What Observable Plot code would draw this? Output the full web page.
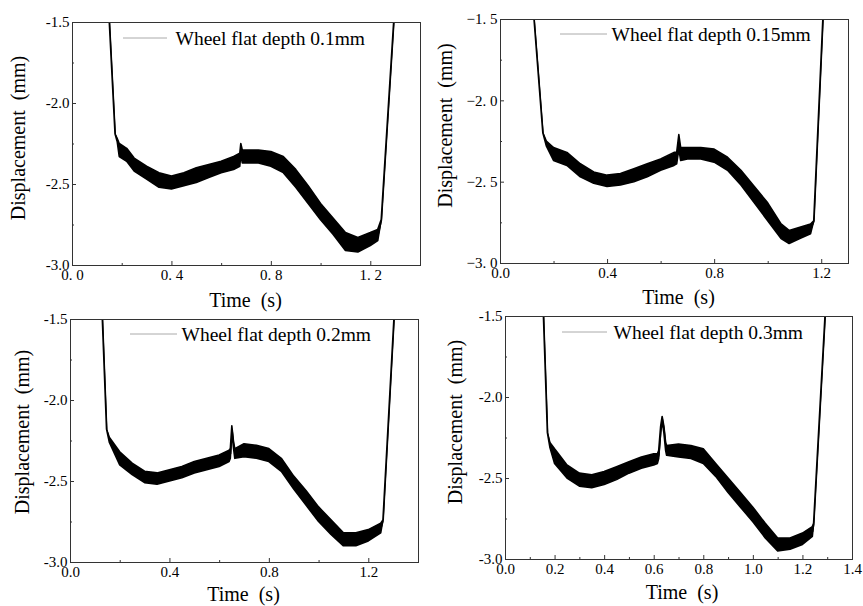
<!DOCTYPE html>
<html><head><meta charset="utf-8">
<script src="https://cdn.jsdelivr.net/npm/d3@7"></script>
<script src="https://cdn.jsdelivr.net/npm/@observablehq/plot@0.6"></script>
<style>
body{margin:0;background:#fff;}
#chart{position:relative;width:863px;height:606px;overflow:hidden;background:#fff;font-family:"Liberation Serif",serif;}
#chart svg{position:absolute;overflow:visible;}
#chart svg text{font-family:"Liberation Serif","Times New Roman",serif;white-space:pre;}
#chart svg g[aria-label$="tick label"] text{font-size:15px !important;fill:#000;}
</style></head><body><div id="chart"></div>
<script>
// ---- Data (time in s, displacement band in mm) ----
const time1  = [0.150,0.173,0.182,0.19,0.22,0.25,0.30,0.35,0.40,0.45,0.50,0.55,0.60,0.65,0.675,0.679,0.685,0.70,0.75,0.80,0.85,0.90,0.95,1.00,1.05,1.10,1.15,1.20,1.23,1.244,1.294];
const lower1 = [-1.5,-2.19,-2.24,-2.33,-2.36,-2.42,-2.47,-2.52,-2.53,-2.51,-2.49,-2.46,-2.43,-2.41,-2.39,-2.32,-2.37,-2.37,-2.37,-2.39,-2.43,-2.52,-2.62,-2.72,-2.81,-2.91,-2.92,-2.88,-2.85,-2.72,-1.5];
const upper1 = [-1.5,-2.19,-2.22,-2.25,-2.28,-2.34,-2.39,-2.43,-2.45,-2.43,-2.40,-2.38,-2.36,-2.33,-2.31,-2.25,-2.29,-2.29,-2.29,-2.30,-2.33,-2.41,-2.51,-2.62,-2.71,-2.80,-2.83,-2.80,-2.78,-2.72,-1.5];

const time2  = [0.127,0.160,0.173,0.20,0.25,0.30,0.35,0.40,0.45,0.50,0.55,0.60,0.65,0.66,0.668,0.675,0.70,0.75,0.80,0.85,0.90,0.95,1.00,1.05,1.08,1.12,1.16,1.172,1.206];
const lower2 = [-1.5,-2.20,-2.28,-2.37,-2.40,-2.47,-2.51,-2.53,-2.52,-2.50,-2.47,-2.43,-2.40,-2.39,-2.30,-2.37,-2.36,-2.36,-2.38,-2.43,-2.52,-2.63,-2.74,-2.85,-2.88,-2.85,-2.82,-2.74,-1.5];
const upper2 = [-1.5,-2.20,-2.25,-2.29,-2.32,-2.39,-2.44,-2.46,-2.45,-2.42,-2.39,-2.36,-2.32,-2.32,-2.21,-2.29,-2.29,-2.29,-2.30,-2.35,-2.43,-2.53,-2.63,-2.76,-2.80,-2.78,-2.76,-2.74,-1.5];

const time3  = [0.130,0.147,0.158,0.20,0.25,0.30,0.35,0.40,0.45,0.50,0.55,0.60,0.64,0.645,0.651,0.658,0.663,0.70,0.75,0.80,0.85,0.90,0.95,1.00,1.05,1.10,1.15,1.20,1.25,1.259,1.303];
const lower3 = [-1.5,-2.18,-2.26,-2.40,-2.46,-2.51,-2.52,-2.50,-2.48,-2.45,-2.43,-2.41,-2.38,-2.36,-2.20,-2.30,-2.36,-2.35,-2.36,-2.38,-2.44,-2.55,-2.65,-2.75,-2.83,-2.90,-2.90,-2.87,-2.82,-2.74,-1.5];
const upper3 = [-1.5,-2.18,-2.23,-2.32,-2.39,-2.44,-2.45,-2.43,-2.41,-2.38,-2.36,-2.34,-2.31,-2.30,-2.16,-2.26,-2.30,-2.27,-2.28,-2.30,-2.36,-2.47,-2.56,-2.66,-2.74,-2.82,-2.82,-2.80,-2.76,-2.74,-1.5];

const time4  = [0.155,0.171,0.181,0.20,0.25,0.30,0.35,0.40,0.45,0.50,0.55,0.60,0.615,0.62,0.628,0.634,0.641,0.648,0.652,0.70,0.75,0.80,0.85,0.90,0.95,1.00,1.05,1.10,1.15,1.20,1.24,1.245,1.291];
const lower4 = [-1.5,-2.22,-2.31,-2.41,-2.50,-2.55,-2.56,-2.54,-2.51,-2.47,-2.44,-2.42,-2.41,-2.38,-2.22,-2.15,-2.22,-2.33,-2.36,-2.37,-2.38,-2.41,-2.49,-2.59,-2.68,-2.77,-2.87,-2.95,-2.94,-2.91,-2.86,-2.78,-1.5];
const upper4 = [-1.5,-2.22,-2.28,-2.32,-2.42,-2.47,-2.48,-2.46,-2.43,-2.40,-2.37,-2.35,-2.35,-2.33,-2.18,-2.12,-2.18,-2.28,-2.30,-2.29,-2.30,-2.32,-2.41,-2.50,-2.59,-2.68,-2.78,-2.87,-2.87,-2.84,-2.80,-2.78,-1.5];

// ---- Ticks and labels ----
const yMajorTicks = [-3, -2.5, -2, -1.5];
const yMinorTicks = [-2.75, -2.25, -1.75];
const yTickLabelsA = ["-3.0", "-2.5", "-2.0", "-1.5"];
const yTickLabelsB = ["\u22123. 0", "\u22122. 5", "\u22122. 0", "\u22121. 5"];
const xMajorTicks = [0, 0.4, 0.8, 1.2];
const xMinorTicks = [0.2, 0.6, 1.0];
const xTickLabelsA = ["0. 0", "0. 4", "0. 8", "1. 2"];
const xTickLabelsB = ["0.0", "0.4", "0.8", "1.2"];
const xMajorTicks4 = [0, 0.2, 0.4, 0.6, 0.8, 1.0, 1.2, 1.4];
const xMinorTicks4 = [0.1, 0.3, 0.5, 0.7, 0.9, 1.1, 1.3];
const xTickLabels4 = ["0.0", "0.2", "0.4", "0.6", "0.8", "1.0", "1.2", "1.4"];
const legendLabels = ["Wheel flat depth 0.1mm", "Wheel flat depth 0.15mm", "Wheel flat depth 0.2mm", "Wheel flat depth 0.3mm"];
const xTitle = "Time\u00a0\u00a0(s)";
const yTitle = "Displacement\u00a0\u00a0(mm)";
const xMaxes = [1.4, 1.3, 1.4, 1.4];

// ---- Layout ----
const panels = [
  {left:0,   top:0,   width:430, height:300, ml:72, mt:22, mr:10, mb:35, xtDx:-1, xtDy:35, ytDx:-54, ytDy:-6,  lgDx:103, lgDy:16, lgX1:123, lgX2:167, lgY:38,
   time:time1, lower:lower1, upper:upper1, xMajor:xMajorTicks, xMinor:xMinorTicks, xLabels:xTickLabelsA, yLabels:yTickLabelsA},
  {left:430, top:0,   width:433, height:300, ml:70, mt:19, mr:15, mb:37, xtDx:4,  xtDy:34, ytDx:-55, ytDy:-16, lgDx:111, lgDy:15, lgX1:130, lgX2:177, lgY:34,
   time:time2, lower:lower2, upper:upper2, xMajor:xMajorTicks, xMinor:xMinorTicks, xLabels:xTickLabelsB, yLabels:yTickLabelsB},
  {left:0,   top:300, width:430, height:306, ml:70, mt:19, mr:12, mb:44, xtDx:-1, xtDy:32, ytDx:-48, ytDy:-9,  lgDx:111, lgDy:15, lgX1:130, lgX2:177, lgY:34,
   time:time3, lower:lower3, upper:upper3, xMajor:xMajorTicks, xMinor:xMinorTicks, xLabels:xTickLabelsB, yLabels:yTickLabelsA},
  {left:430, top:300, width:433, height:306, ml:75, mt:16, mr:11, mb:47, xtDx:3,  xtDy:33, ytDx:-50, ytDy:-16, lgDx:108, lgDy:16, lgX1:132, lgX2:177, lgY:32,
   time:time4, lower:lower4, upper:upper4, xMajor:xMajorTicks4, xMinor:xMinorTicks4, xLabels:xTickLabels4, yLabels:yTickLabelsA}
];

const container = document.getElementById("chart");
panels.forEach((p, k) => {
  const rows = p.time.map((t, i) => ({t, lo: p.lower[i], hi: p.upper[i], mid: (p.lower[i] + p.upper[i]) / 2}));
  const innerW = p.width - p.ml - p.mr;
  const innerH = p.height - p.mt - p.mb;
  const svg = Plot.plot({
    width: p.width, height: p.height,
    marginLeft: p.ml, marginTop: p.mt, marginRight: p.mr, marginBottom: p.mb,
    style: {fontFamily: "'Liberation Serif', 'Times New Roman', serif", fontSize: "15px", background: "transparent", overflow: "visible", color: "#000"},
    x: {domain: [0, xMaxes[k]]},
    y: {domain: [-3, -1.5]},
    marks: [
      Plot.areaY(rows, {x: "t", y1: "lo", y2: "hi", fill: "#000", stroke: "#000", strokeWidth: 1.6, strokeLinejoin: "round", clip: true}),
      Plot.lineY(rows, {x: "t", y: "mid", stroke: "#000", strokeWidth: 1, clip: true}),
      Plot.frame({stroke: "#333", strokeWidth: 1}),
      Plot.ruleX(p.xMajor, {x: d => d, stroke: "#333", insetTop: innerH - 4}),
      Plot.ruleX(p.xMinor, {x: d => d, stroke: "#333", insetTop: innerH - 2}),
      Plot.ruleY(yMajorTicks, {y: d => d, stroke: "#333", insetRight: innerW - 4}),
      Plot.ruleY(yMinorTicks, {y: d => d, stroke: "#333", insetRight: innerW - 2}),
      Plot.axisX(p.xMajor, {tickSize: 0, tickPadding: 4, label: null, fontSize: 15, fill: "#000", tickFormat: d => p.xLabels[p.xMajor.indexOf(d)]}),
      Plot.axisY(yMajorTicks, {tickSize: 0, tickPadding: 3, label: null, fontSize: 15, fill: "#000", tickFormat: d => p.yLabels[yMajorTicks.indexOf(d)]}),
      Plot.text([xTitle], {frameAnchor: "bottom", textAnchor: "middle", lineAnchor: "middle", text: d => d, dx: p.xtDx, dy: p.xtDy, fontSize: 20, fill: "#000"}),
      Plot.text([yTitle], {frameAnchor: "left", textAnchor: "middle", lineAnchor: "middle", text: d => d, rotate: -90, dx: p.ytDx, dy: p.ytDy, fontSize: 20, fill: "#000"}),
      Plot.text([legendLabels[k]], {frameAnchor: "top-left", textAnchor: "start", lineAnchor: "middle", text: d => d, dx: p.lgDx, dy: p.lgDy, fontSize: 19.5, fill: "#000"})
    ]
  });
  d3.select(svg).append("line")
    .attr("x1", p.lgX1).attr("x2", p.lgX2).attr("y1", p.lgY).attr("y2", p.lgY)
    .attr("stroke", "#aaa").attr("stroke-width", 1);
  svg.style.left = p.left + "px";
  svg.style.top = p.top + "px";
  container.appendChild(svg);
});
</script></body></html>
